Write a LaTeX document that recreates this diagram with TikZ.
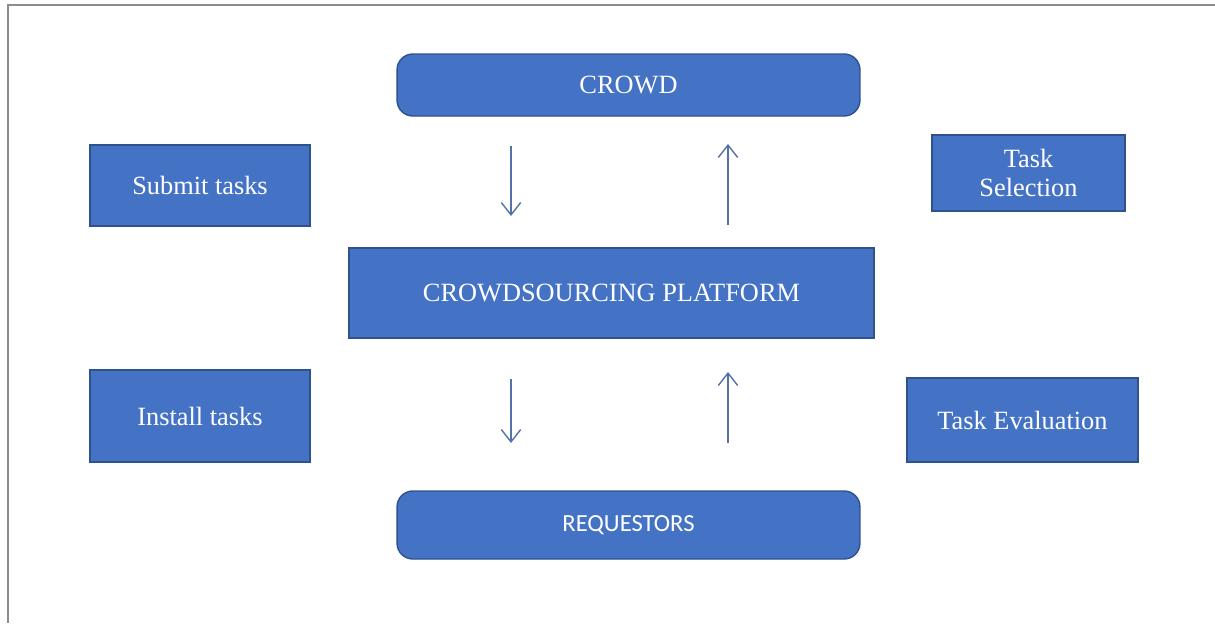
\documentclass[tikz,border=0pt]{standalone}
\usepackage{fontspec}
\setmainfont{Liberation Serif}
\newfontfamily\reqfont{Carlito}
\usetikzlibrary{arrows.meta}

\definecolor{boxblue}{HTML}{4472C4}
\definecolor{boxline}{HTML}{2F528F}
\definecolor{flowblue}{HTML}{5572A8}
\definecolor{framegray}{HTML}{8C8C8C}

\tikzset{
  block/.style={draw=boxline, line width=0.8pt, fill=boxblue, text=white,
    font=\fontsize{15}{17}\selectfont, inner sep=0pt, align=center},
  roundblock/.style={block, rounded corners=9pt},
  flow/.style={flowblue, line width=0.8pt, -{Straight Barb[length=7pt,width=11pt]}}
}

\begin{document}
\begin{tikzpicture}[x=0.02cm,y=-0.02cm]
        \useasboundingbox (0,0) rectangle (1215,623);
        \draw[framegray, line width=1.5pt] (8,623) -- (8,5) -- (1215,5);

        % main column
        \node[roundblock, minimum width=9.26cm, minimum height=1.24cm] (crowd) at (628.5,85) {CROWD};
        \node[block, minimum width=10.5cm, minimum height=1.8cm] (platform) at (611.5,293) {CROWDSOURCING PLATFORM};
        \node[roundblock, minimum width=9.26cm, minimum height=1.36cm, font=\reqfont\fontsize{14}{16}\selectfont] (req) at (628.5,525) {REQUESTORS};

        % side boxes
        \node[block, minimum width=4.4cm, minimum height=1.62cm] (submit) at (200,185.5) {Submit tasks};
        \node[block, minimum width=3.86cm, minimum height=1.52cm] (select) at (1028.5,173) {Task\\Selection};
        \node[block, minimum width=4.4cm, minimum height=1.84cm] (install) at (200,416) {Install tasks};
        \node[block, minimum width=4.62cm, minimum height=1.68cm] (eval) at (1022.5,420) {Task Evaluation};

        % arrow ends
        \coordinate (d1s) at (511,146);
        \coordinate (d1e) at (511,216);
        \coordinate (u1s) at (728,225);
        \coordinate (u1e) at (728,144);
        \coordinate (d2s) at (511,379);
        \coordinate (d2e) at (511,443);
        \coordinate (u2s) at (728,443);
        \coordinate (u2e) at (728,372);

        \draw[flow] (d1s) -- (d1e);
        \draw[flow] (u1s) -- (u1e);
        \draw[flow] (d2s) -- (d2e);
        \draw[flow] (u2s) -- (u2e);
\end{tikzpicture}
\end{document}
